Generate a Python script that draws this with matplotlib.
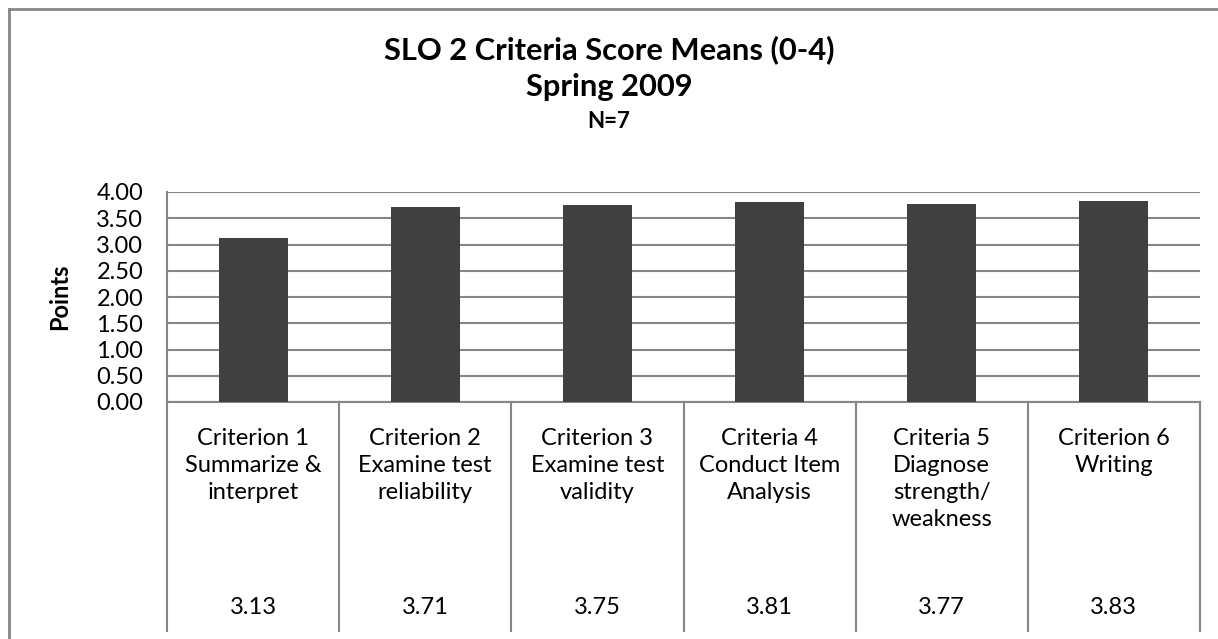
import matplotlib
matplotlib.use("Agg")
import matplotlib.pyplot as plt
from matplotlib.transforms import blended_transform_factory
from matplotlib.lines import Line2D

categories = [
    "Criterion 1\nSummarize &\ninterpret",
    "Criterion 2\nExamine test\nreliability",
    "Criterion 3\nExamine test\nvalidity",
    "Criteria 4\nConduct Item\nAnalysis",
    "Criteria 5\nDiagnose\nstrength/\nweakness",
    "Criterion 6\nWriting",
]
values = [3.13, 3.71, 3.75, 3.81, 3.77, 3.83]
value_labels = ["3.13", "3.71", "3.75", "3.81", "3.77", "3.83"]
yticks = [0.0, 0.5, 1.0, 1.5, 2.0, 2.5, 3.0, 3.5, 4.0]

FONT = "Lato"
W, H = 1218, 639
fig = plt.figure(figsize=(W / 100, H / 100), dpi=100)
fig.patch.set_facecolor("white")

def fx(px):
    return px / W

def fy(py):
    return (H - py) / H

left, right, top, bottom = 167, 1200, 192, 402
ax = fig.add_axes([fx(left), fy(bottom), fx(right) - fx(left), fy(top) - fy(bottom)])

grid_c = "#868686"
x = list(range(len(values)))
ax.bar(x, values, width=0.4, color="#404040", zorder=3)
ax.set_xlim(-0.5, len(values) - 0.5)
ax.set_ylim(0, 4)
ax.set_yticks(yticks)
ax.set_yticklabels([f"{v:.2f}" for v in yticks], fontsize=17, family=FONT)
ax.tick_params(axis="y", length=0, pad=17)
ax.set_xticks([])
ax.yaxis.grid(True, color=grid_c, linewidth=1.5, zorder=0)
for s in ["top", "right"]:
    ax.spines[s].set_visible(False)
for s in ["left", "bottom"]:
    ax.spines[s].set_color(grid_c)
    ax.spines[s].set_linewidth(1.5)

# data table below the plot area
tr = blended_transform_factory(ax.transData, fig.transFigure)
for b in [i - 0.5 for i in range(len(values) + 1)]:
    ax.add_line(Line2D([b, b], [fy(bottom), fy(631)], transform=tr, color=grid_c,
                       linewidth=1.5, clip_on=False))
for i, (c, v) in enumerate(zip(categories, value_labels)):
    ax.text(i, fy(428), c, transform=tr, ha="center", va="top", fontsize=17,
            family=FONT, linespacing=1.35, clip_on=False)
    ax.text(i, fy(608), v, transform=tr, ha="center", va="center", fontsize=17,
            family=FONT, clip_on=False)

# titles
fig.text(0.5, fy(50), "SLO 2 Criteria Score Means (0-4)", ha="center", va="center",
         fontsize=22.2, fontweight="bold", family=FONT)
fig.text(0.5, fy(87), "Spring 2009", ha="center", va="center",
         fontsize=22.2, fontweight="bold", family=FONT)
fig.text(0.5, fy(122), "N=7", ha="center", va="center",
         fontsize=16, fontweight="bold", family=FONT)
fig.text(fx(60), fy(297), "Points", ha="center", va="center", rotation=90,
         fontsize=17, fontweight="bold", family=FONT)

# outer chart border (left and top visible)
fig.add_artist(Line2D([fx(9), fx(9)], [fy(9), 0], transform=fig.transFigure,
                      color="#868686", linewidth=2))
fig.add_artist(Line2D([fx(9), 1], [fy(9), fy(9)], transform=fig.transFigure,
                      color="#868686", linewidth=2))

fig.savefig("out.png", dpi=100)
